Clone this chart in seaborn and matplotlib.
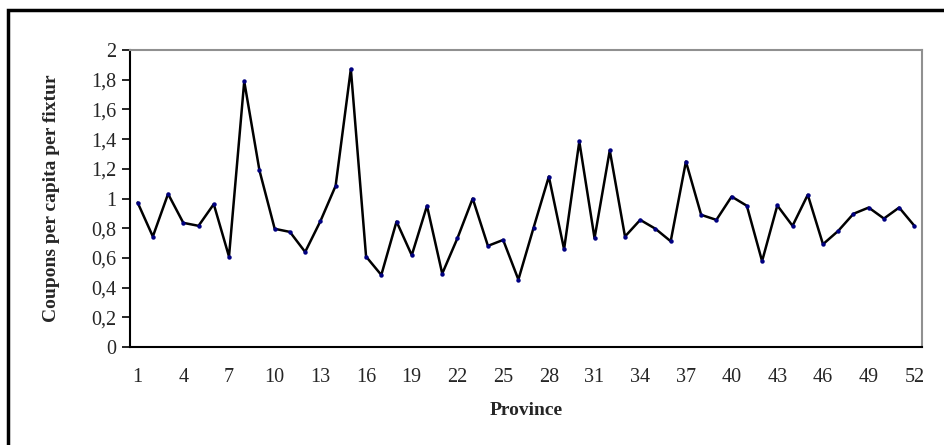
import matplotlib
matplotlib.use("Agg")
import matplotlib.pyplot as plt
import matplotlib.patches as mpatches
import seaborn as sns
import pandas as pd

provinces = list(range(1, 53))
coupons = [0.973, 0.744, 1.031, 0.836, 0.816, 0.962, 0.609, 1.789, 1.189, 0.796,
           0.775, 0.640, 0.847, 1.085, 1.872, 0.609, 0.485, 0.845, 0.618, 0.951,
           0.494, 0.733, 1.000, 0.681, 0.721, 0.454, 0.804, 1.148, 0.658, 1.384,
           0.733, 1.324, 0.744, 0.856, 0.796, 0.712, 1.249, 0.890, 0.856, 1.013,
           0.951, 0.578, 0.953, 0.816, 1.025, 0.692, 0.782, 0.897, 0.939, 0.865,
           0.939, 0.816]
x_tick_labels = [str(p) for p in range(1, 53, 3)]
y_ticks = [0, 0.2, 0.4, 0.6, 0.8, 1.0, 1.2, 1.4, 1.6, 1.8, 2.0]
y_tick_labels = ["0", "0,2", "0,4", "0,6", "0,8", "1", "1,2", "1,4", "1,6", "1,8", "2"]

df = pd.DataFrame({"Province": provinces, "Coupons": coupons})

sns.set_theme(style="white")
plt.rcParams["font.family"] = ["Liberation Serif", "DejaVu Serif"]

fig = plt.figure(figsize=(9.44, 4.45), dpi=100)
ax = fig.add_axes([130 / 944, 1 - 347 / 445, (922 - 130) / 944, (347 - 50) / 445])

sns.lineplot(data=df, x="Province", y="Coupons", ax=ax, color="black", linewidth=1.8,
             marker="o", markersize=3.2, markerfacecolor="#000080",
             markeredgecolor="#000080", markeredgewidth=0)

ax.set_xlim(0.5, 52.5)
ax.set_ylim(0, 2)
ax.set_xticks(list(range(1, 53, 3)))
ax.set_xticklabels(x_tick_labels, fontsize=14.5)
ax.set_yticks(y_ticks)
ax.set_yticklabels(y_tick_labels, fontsize=14.5)
ax.tick_params(axis="x", length=0, pad=15)
ax.tick_params(axis="y", length=6, width=1.2, color="black", direction="out", pad=4, left=True)

ax.set_xlabel("Province", fontsize=14, fontweight="bold", labelpad=11)
ax.set_ylabel("Coupons per capita per fixtur", fontsize=14, fontweight="bold", labelpad=22)

for side in ["left", "bottom"]:
    ax.spines[side].set_color("black")
    ax.spines[side].set_linewidth(1.5)
for side in ["top", "right"]:
    ax.spines[side].set_color("#909090")
    ax.spines[side].set_linewidth(1.5)
ax.grid(False)

border = mpatches.Rectangle((8 / 944, -0.1), 1.2, 1.1 - 10 / 445, transform=fig.transFigure,
                            fill=False, edgecolor="black", linewidth=2.5)
fig.patches.append(border)

fig.savefig("out.png", dpi=100)
